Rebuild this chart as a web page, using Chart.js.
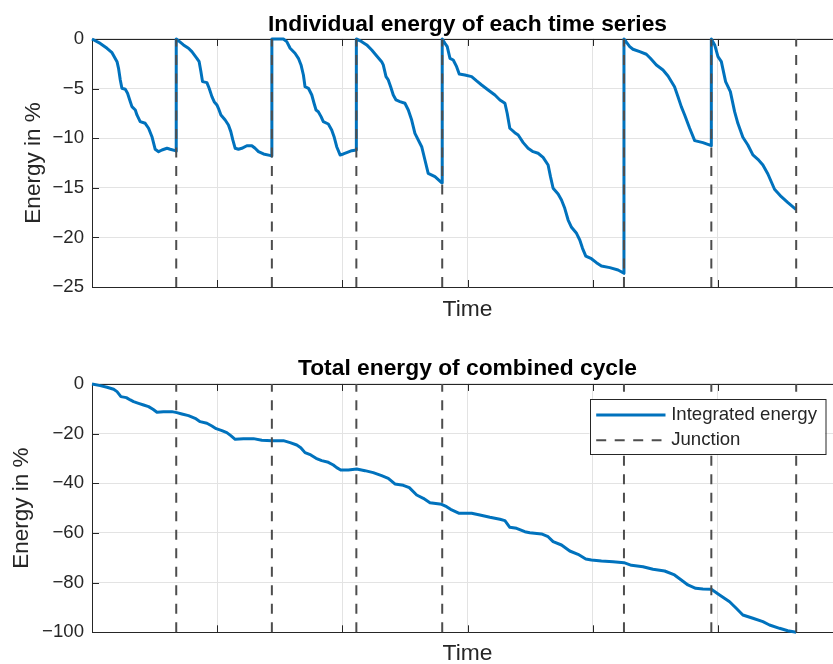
<!DOCTYPE html>
<html><head><meta charset="utf-8">
<script src="https://cdn.jsdelivr.net/npm/chart.js@4.4.1/dist/chart.umd.min.js"></script>
<style>
html,body{margin:0;padding:0;background:#fff;overflow:hidden;}
#wrap{position:relative;width:833px;height:664px;overflow:hidden;background:#fff;}
canvas{position:absolute;left:0;}
</style></head><body>
<div id="wrap">
<canvas id="c1" width="843" height="332" style="top:0px"></canvas>
<canvas id="c2" width="843" height="345" style="top:332px"></canvas>
</div>
<script>
// ---- data (time in arbitrary units, energy in %) ----
const junctionTimes = [0.673, 1.437, 2.112, 2.798, 4.250, 4.948, 5.626];
const timeGridTicks = [0, 1, 2, 3, 4, 5, 6];
const topEnergyTicks = [0, -5, -10, -15, -20, -25];
const bottomEnergyTicks = [0, -20, -40, -60, -80, -100];

const seriesTime = [
 0.000,0.066,0.120,0.160,0.200,0.212,0.226,0.239,0.266,0.284,0.306,0.319,0.346,0.359,0.385,0.425,0.452,0.479,0.505,0.532,0.559,0.599,0.625,0.665,0.673,
 0.673,0.731,0.771,0.798,0.838,0.856,0.870,0.883,0.918,0.936,0.958,0.976,0.998,1.010,1.030,1.064,1.090,1.109,1.125,1.144,1.170,1.197,1.237,1.277,1.303,1.330,1.370,1.429,1.437,
 1.437,1.529,1.556,1.583,1.622,1.649,1.670,1.689,1.702,1.729,1.756,1.774,1.790,1.808,1.830,1.848,1.888,1.915,1.934,1.955,1.982,2.008,2.035,2.075,2.112,
 2.112,2.155,2.195,2.235,2.275,2.314,2.327,2.349,2.367,2.386,2.407,2.429,2.460,2.500,2.527,2.554,2.580,2.634,2.660,2.686,2.740,2.793,2.798,
 2.798,2.820,2.838,2.860,2.886,2.913,2.934,2.979,3.033,3.073,3.113,3.165,3.219,3.259,3.299,3.317,3.338,3.378,3.405,3.445,3.484,3.524,3.564,3.604,3.644,3.663,3.684,3.724,3.751,3.777,3.804,3.831,3.871,3.897,3.919,3.945,3.990,4.030,4.070,4.137,4.203,4.250,
 4.250,4.296,4.322,4.376,4.429,4.461,4.509,4.562,4.602,4.654,4.681,4.708,4.735,4.775,4.815,4.881,4.948,
 4.948,4.975,5.001,5.028,5.062,5.100,5.134,5.160,5.200,5.240,5.280,5.320,5.360,5.400,5.453,5.507,5.560,5.626
];
const seriesEnergy = [
 0,-0.45,-0.94,-1.38,-2.29,-2.96,-4.13,-4.97,-5.07,-5.47,-6.32,-6.82,-7.16,-7.66,-8.33,-8.50,-9.00,-9.85,-11.12,-11.36,-11.19,-11.02,-11.12,-11.26,-11.30,
 0,-0.60,-0.94,-1.28,-1.95,-2.29,-3.29,-4.30,-4.40,-4.97,-5.81,-6.32,-6.65,-6.99,-7.66,-8.17,-8.67,-9.34,-10.18,-11.02,-11.12,-11.02,-10.76,-10.76,-11.02,-11.36,-11.59,-11.76,-11.80,
 0,0,-0.27,-0.94,-1.44,-1.95,-2.62,-3.63,-4.81,-4.97,-5.65,-6.48,-7.16,-7.33,-7.83,-8.33,-8.57,-9.17,-9.85,-10.86,-11.69,-11.59,-11.46,-11.26,-11.19,
 0,-0.27,-0.60,-1.11,-1.71,-2.29,-2.62,-3.80,-4.13,-4.81,-5.65,-6.15,-6.32,-6.48,-7.16,-8.17,-9.51,-10.86,-12.20,-13.54,-13.88,-14.49,-14.50,
 0,-0.44,-0.77,-1.95,-2.12,-2.79,-3.53,-3.63,-3.80,-4.23,-4.64,-5.14,-5.65,-6.15,-6.48,-7.49,-9.00,-9.45,-9.68,-10.45,-11.02,-11.36,-11.52,-11.93,-12.70,-13.88,-15.05,-15.63,-16.23,-17.07,-18.25,-18.98,-19.59,-20.26,-21.10,-21.88,-22.15,-22.55,-22.88,-23.05,-23.29,-23.62,
 0,-0.77,-1.04,-1.28,-1.54,-1.95,-2.62,-3.13,-3.73,-4.81,-5.81,-6.82,-7.66,-9.00,-10.25,-10.45,-10.76,
 0,-0.60,-1.78,-2.29,-4.30,-5.31,-7.33,-8.50,-9.91,-10.69,-11.69,-12.13,-12.70,-13.61,-15.15,-15.90,-16.50,-17.20
];

const totalTime = [
 0.000,0.066,0.120,0.173,0.200,0.231,0.274,0.306,0.332,0.372,0.412,0.452,0.487,0.519,0.571,0.638,0.678,0.718,0.771,0.824,0.864,0.918,0.958,0.992,1.038,1.077,1.109,1.144,1.210,1.290,1.357,1.437,
 1.529,1.583,1.636,1.668,1.702,1.748,1.790,1.835,1.888,1.928,1.955,1.987,2.048,2.115,2.181,2.247,2.314,2.367,2.420,2.487,2.535,2.594,2.647,2.700,2.793,
 2.833,2.865,2.934,3.033,3.099,3.179,3.259,3.299,3.338,3.392,3.458,3.498,3.591,3.644,3.684,3.751,3.817,3.883,3.945,3.990,4.070,4.163,4.250,
 4.310,4.402,4.482,4.575,4.654,4.708,4.761,4.823,4.881,4.948,5.014,5.094,5.147,5.200,5.280,5.360,5.413,5.493,5.559,5.626
];
const totalEnergy = [
 0,-0.67,-1.34,-2.15,-3.09,-5.10,-5.50,-6.44,-7.11,-7.79,-8.46,-9.13,-10.20,-11.40,-11.15,-11.15,-11.54,-12.08,-12.75,-13.83,-15.17,-15.84,-16.92,-18.00,-18.79,-19.60,-20.80,-22.28,-22.02,-22.02,-22.69,-22.82,
 -22.82,-23.63,-24.57,-25.65,-27.65,-28.59,-29.93,-30.88,-31.55,-32.62,-33.69,-34.64,-34.64,-34.23,-34.91,-35.72,-36.92,-37.98,-40.27,-40.80,-41.76,-44.70,-46.04,-47.80,-48.45,
 -49.40,-50.46,-52.07,-52.07,-52.76,-53.69,-54.49,-55.05,-57.71,-58.11,-59.48,-59.89,-60.41,-61.50,-63.51,-64.84,-67.26,-68.59,-70.48,-70.88,-71.28,-71.57,-71.97,
 -73.02,-73.58,-74.63,-75.31,-76.92,-78.94,-80.95,-82.28,-82.56,-82.70,-84.98,-87.68,-90.33,-93.03,-94.36,-95.73,-97.06,-98.39,-99.36,-100
];

// ---- styling ----
const FONT = "'Liberation Sans', Arial, Helvetica, sans-serif";
const BLUE = '#0072BD';
const JUNC = '#4d4d4d';
const AXIS = '#262626';
const GRID = '#e3e3e3';
const DASH = [10, 8.5];

const toPoints = (xs, ys) => xs.map((x, i) => ({x, y: ys[i]}));
const fmtMinus = v => String(v).replace('-', '\u2212');

function junctionSets(yMin) {
  return junctionTimes.map((t, i) => ({
    label: 'Junction',
    data: [{x: t, y: yMin}, {x: t, y: 0}],
    borderColor: JUNC, borderWidth: 2, borderDash: DASH,
    pointRadius: 0, order: 0, clip: 3, isJunction: true, legendIndex: i
  }));
}

const boxPlugin = {
  id: 'matlabBox',
  beforeDatasetsDraw(chart) {
    const {ctx, chartArea: a, scales: {x, y}} = chart;
    ctx.save();
    ctx.strokeStyle = AXIS; ctx.lineWidth = 1;
    ctx.beginPath();
    x.ticks.forEach(t => {
      const px = Math.round(x.getPixelForValue(t.value)) + 0.5;
      ctx.moveTo(px, a.bottom); ctx.lineTo(px, a.bottom - 7);
      ctx.moveTo(px, a.top); ctx.lineTo(px, a.top + 7);
    });
    y.ticks.forEach(t => {
      const py = Math.round(y.getPixelForValue(t.value)) + 0.5;
      ctx.moveTo(a.left, py); ctx.lineTo(a.left + 7, py);
    });
    ctx.stroke();
    ctx.beginPath();
    const l = Math.round(a.left) + 0.5, tp = Math.round(a.top) + 0.5, b = Math.round(a.bottom) + 0.5;
    ctx.moveTo(a.right + 2, tp); ctx.lineTo(l, tp); ctx.lineTo(l, b); ctx.lineTo(a.right + 2, b);
    ctx.stroke();
    ctx.restore();
  }
};

const legendPlugin = {
  id: 'insideLegend',
  afterDraw(chart) {
    const {ctx, chartArea: a} = chart;
    const w = 235.5, h = 55;
    const left = a.right - 18 - w, top = a.top + 15.5;
    ctx.save();
    ctx.fillStyle = '#fff';
    ctx.fillRect(left, top, w, h);
    ctx.strokeStyle = AXIS; ctx.lineWidth = 1;
    ctx.strokeRect(Math.round(left) + 0.5, Math.round(top) + 0.5, w, h);
    const main = chart.data.datasets.find(d => !d.isJunction);
    const junc = chart.data.datasets.find(d => d.isJunction);
    const r1 = top + 15.5, r2 = top + 40.7;
    ctx.lineCap = 'butt';
    ctx.strokeStyle = main.borderColor; ctx.lineWidth = 3;
    ctx.beginPath(); ctx.moveTo(left + 6.7, r1); ctx.lineTo(left + 76, r1); ctx.stroke();
    ctx.strokeStyle = junc.borderColor; ctx.lineWidth = 2; ctx.setLineDash(DASH);
    ctx.beginPath(); ctx.moveTo(left + 6.7, r2); ctx.lineTo(left + 72, r2); ctx.stroke();
    ctx.setLineDash([]);
    ctx.fillStyle = AXIS; ctx.font = '18.6px ' + FONT;
    ctx.textBaseline = 'middle'; ctx.textAlign = 'left';
    ctx.fillText(main.label, left + 81.7, r1);
    ctx.fillText(junc.label, left + 81.7, r2);
    ctx.restore();
  }
};

function makeChart(id, cfg) {
  const tickList = cfg.yTicks;
  return new Chart(document.getElementById(id), {
    type: 'line',
    data: {
      datasets: [
        {
          label: cfg.label,
          data: toPoints(cfg.xs, cfg.ys),
          borderColor: BLUE, borderWidth: 3, pointRadius: 0, tension: 0,
          borderJoinStyle: 'round', order: 1, clip: 3
        },
        ...junctionSets(cfg.yMin)
      ]
    },
    options: {
      responsive: false, animation: false, events: [],
      layout: {padding: 0},
      plugins: {
        legend: {display: false},
        tooltip: {enabled: false},
        title: {
          display: true, text: cfg.title, fullSize: false,
          color: '#000', font: {family: FONT, size: 22.8, weight: 'bold'},
          padding: cfg.titlePad
        }
      },
      scales: {
        x: {
          type: 'linear', min: 0, max: 6,
          afterBuildTicks: s => { s.ticks = timeGridTicks.map(v => ({value: v})); },
          afterFit: s => { s.height = cfg.xHeight; },
          ticks: {display: false},
          grid: {color: GRID, lineWidth: 1, drawTicks: false},
          border: {display: false},
          title: {display: true, text: 'Time', color: AXIS, font: {family: FONT, size: 22.8}, padding: {top: 0, bottom: cfg.xTitleBottom}}
        },
        y: {
          type: 'linear', min: cfg.yMin, max: 0,
          afterBuildTicks: s => { s.ticks = tickList.map(v => ({value: v})); },
          afterFit: s => { s.width = 92; },
          ticks: {color: AXIS, font: {family: FONT, size: 18.6}, padding: 8, callback: v => fmtMinus(v)},
          grid: {color: GRID, lineWidth: 1, drawTicks: false},
          border: {display: false},
          title: {display: true, text: 'Energy in %', color: AXIS, font: {family: FONT, size: 22.5}, padding: {top: cfg.yTitleLeft, bottom: 0}}
        }
      }
    },
    plugins: cfg.plugins
  });
}

makeChart('c1', {
  label: 'Energy', xs: seriesTime, ys: seriesEnergy, yMin: -25, yTicks: topEnergyTicks,
  title: 'Individual energy of each time series', titlePad: {top: 11.0, bottom: 0.6},
  xHeight: 45, xTitleBottom: 8.4, yTitleLeft: 20.3, plugins: [boxPlugin]
});
makeChart('c2', {
  label: 'Integrated energy', xs: totalTime, ys: totalEnergy, yMin: -100, yTicks: bottomEnergyTicks,
  title: 'Total energy of combined cycle', titlePad: {top: 23.5, bottom: 1.1},
  xHeight: 44.7, xTitleBottom: 9.4, yTitleLeft: 8.0, plugins: [boxPlugin, legendPlugin]
});
</script>
</body></html>
